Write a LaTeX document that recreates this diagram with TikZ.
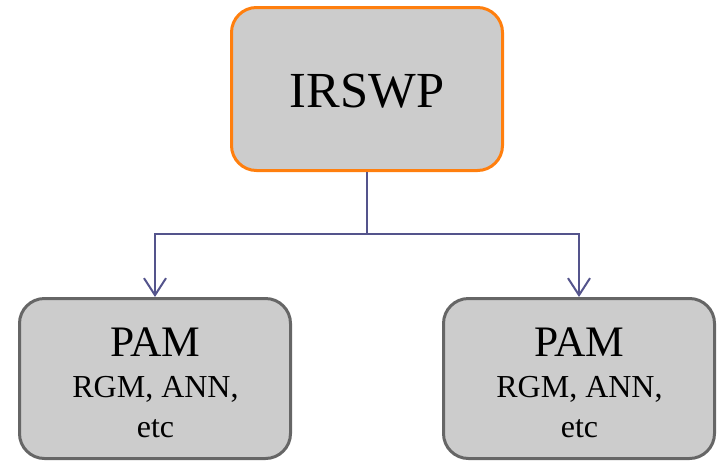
\documentclass[tikz,border=0pt]{standalone}
\usepackage{fontspec}
\setmainfont{Liberation Serif}
\usetikzlibrary{arrows.meta}
\definecolor{boxfill}{RGB}{204,204,204}
\definecolor{rootline}{RGB}{255,127,14}
\definecolor{leafline}{RGB}{102,102,102}
\definecolor{connline}{RGB}{84,84,140}
\tikzset{
  rootbox/.style={draw=rootline, fill=boxfill, line width=3pt, rounded corners=25pt,
    minimum width=271pt, minimum height=163pt, inner sep=0pt},
  leafbox/.style={draw=leafline, fill=boxfill, line width=3pt, rounded corners=25pt,
    minimum width=271pt, minimum height=160pt, inner sep=0pt},
  conn/.style={draw=connline, line width=2pt},
  connarrow/.style={conn, -{Straight Barb[length=17pt,width=22pt,line width=2pt]}},
  lbl/.style={anchor=base, inner sep=0pt, text=black}
}
\begin{document}
\begin{tikzpicture}[x=1pt, y=-1pt]
  \useasboundingbox (0,0) rectangle (717,461);

  % boxes
  \node[rootbox] (root) at (367,89) {};
  \node[leafbox] (leftpam) at (155,378.5) {};
  \node[leafbox] (rightpam) at (579,378.5) {};

  % labels
  \node[lbl, font=\fontsize{50.5}{60}\selectfont] (rootlbl) at (367,107) {IRSWP};
  \node[lbl, font=\fontsize{43.5}{50}\selectfont] (lefttitle) at (155.5,356) {PAM};
  \node[lbl, font=\fontsize{32}{36}\selectfont] (leftsub) at (155.5,397) {RGM, ANN,};
  \node[lbl, font=\fontsize{32}{36}\selectfont] (leftetc) at (155.5,437) {etc};
  \node[lbl, font=\fontsize{43.5}{50}\selectfont] (righttitle) at (579.5,356) {PAM};
  \node[lbl, font=\fontsize{32}{36}\selectfont] (rightsub) at (579.5,397) {RGM, ANN,};
  \node[lbl, font=\fontsize{32}{36}\selectfont] (rightetc) at (579.5,437) {etc};

  % connectors
  \coordinate (split) at (367,234);
  \draw[conn] (root.south) -- (split);
  \draw[connarrow] (split) -| (leftpam.north);
  \draw[connarrow] (split) -| (rightpam.north);
\end{tikzpicture}
\end{document}
